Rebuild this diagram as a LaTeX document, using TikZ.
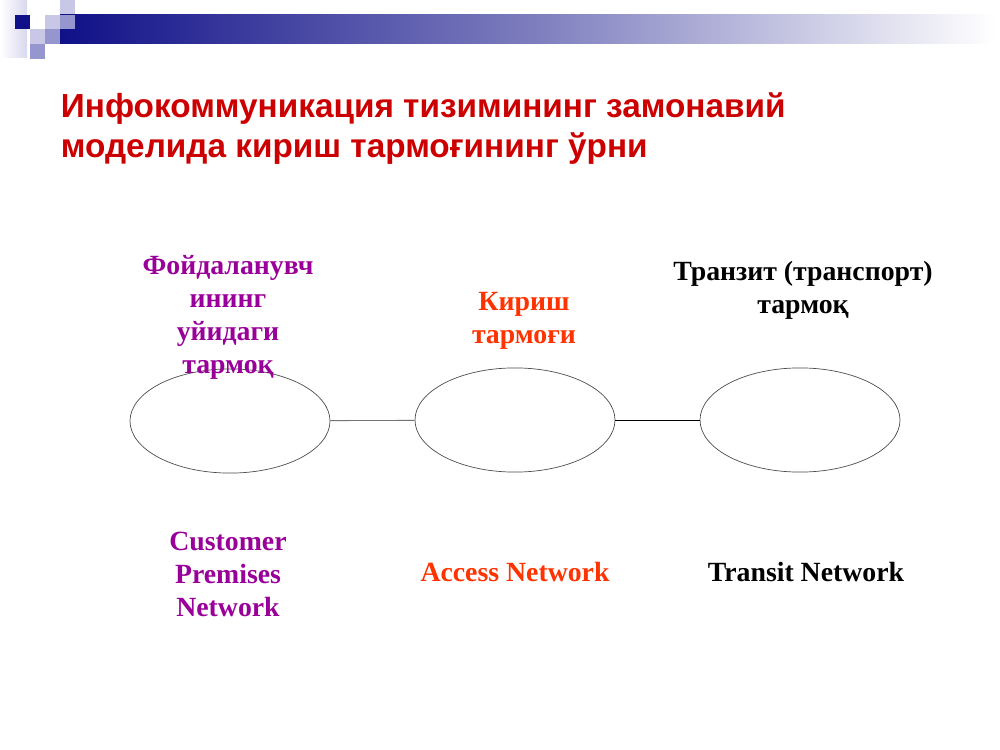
\documentclass[tikz,border=0pt]{standalone}
\usepackage{fontspec}
\setmainfont{Liberation Serif}
\newfontfamily\arialfont{Liberation Sans}
\usetikzlibrary{shapes.geometric, positioning}
\definecolor{titlered}{RGB}{204,0,0}
\definecolor{cpnpurple}{RGB}{153,0,153}
\definecolor{accorange}{RGB}{255,51,0}
\definecolor{barnavy}{RGB}{16,16,136}
\definecolor{lav1}{RGB}{200,200,230}
\definecolor{lav2}{RGB}{150,150,206}

\begin{document}
\begin{tikzpicture}[x=0.72pt, y=-0.72pt,
	net/.style={draw=black!70, line width=0.5pt, ellipse, minimum width=144pt, minimum height=75pt},
	lbl/.style={align=center, font=\fontsize{20pt}{23.8pt}\selectfont\bfseries},
	link/.style={line width=0.6pt}]
		\useasboundingbox (0,0) rectangle (1000,750);
		\fill[white] (0,0) rectangle (1000,750);
		% slide header decoration
		\shade[left color=white, right color=lav1!70] (0,0) rectangle (27,58);
		\fill[lav1] (60,0) rectangle (75,15);
		\shade[left color=barnavy, right color=white, middle color=barnavy!55] (60,15) rectangle (995,44);
		\fill[barnavy] (15,15) rectangle (30,29);
		\fill[lav1] (45,15) rectangle (60,29);
		\fill[lav2] (60,15) rectangle (75,29);
		\fill[lav1] (30,29) rectangle (45,44);
		\fill[lav2] (45,29) rectangle (60,44);
		\fill[lav2] (30,44) rectangle (45,59);

		\node[anchor=base west, align=left, text=titlered,
			font=\arialfont\bfseries\fontsize{24pt}{28.8pt}\selectfont] (title) at (56,158)
			{Инфокоммуникация тизимининг замонавий\\моделида кириш тармоғининг ўрни};

		\draw (230,421) node[net] (cpn) {}
			(515,420) node[net] (acc) {}
			(800,420) node[net] (trn) {};

		\draw[link, black!55] (cpn) -- (acc);
		\draw[link] (acc) -- (trn);

		\node[lbl, text=cpnpurple] (cpnuz) at (228,317) {Фойдаланувч\\ининг\\уйидаги\\тармоқ};
		\node[lbl, text=accorange] (accuz) at (524,321) {Кириш\\тармоғи};
		\node[lbl] (trnuz) at (803,290) {Транзит (транспорт)\\тармоқ};

		\node[lbl, text=cpnpurple] (cpnen) at (228,574) {Customer\\Premises\\Network};
		\node[lbl, text=accorange] (accen) at (515,572) {Access Network};
		\node[lbl] (trnen) at (806,572) {Transit Network};
	\end{tikzpicture}
\end{document}
